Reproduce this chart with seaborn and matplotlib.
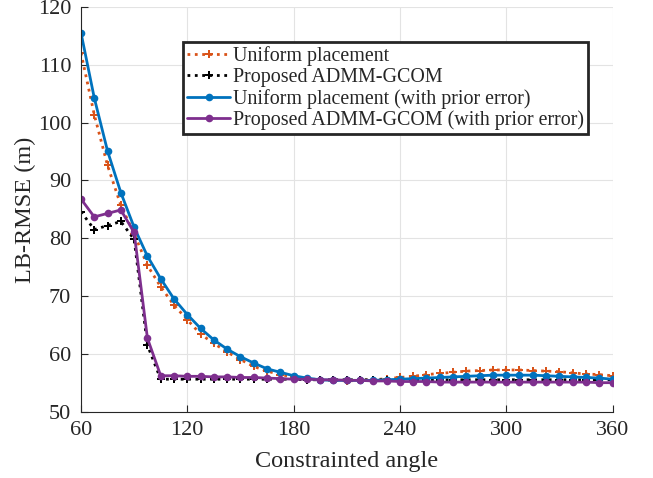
import numpy as np
import pandas as pd
import matplotlib
matplotlib.use("Agg")
import matplotlib.pyplot as plt
import seaborn as sns

# ===== DATA =====
angle = np.linspace(60, 360, 41)

uniform = [112.1, 101.4, 92.6, 85.7, 80.8, 75.3, 71.6, 68.4, 65.9, 63.4,
           61.8, 60.3, 59.0, 57.8, 57.0, 56.4, 56.0, 55.7, 55.5, 55.4,
           55.3, 55.4, 55.5, 55.7, 55.9, 56.1, 56.4, 56.6, 56.8, 57.0,
           57.1, 57.2, 57.2, 57.2, 57.1, 57.0, 56.9, 56.7, 56.5, 56.4, 56.2]
proposed = [84.6, 81.5, 82.2, 82.9, 79.8, 61.5, 55.6, 55.6, 55.6, 55.6,
            55.6, 55.6, 55.6, 55.6, 55.6, 55.6, 55.6, 55.5, 55.5, 55.5,
            55.5, 55.5, 55.5, 55.5, 55.5, 55.5, 55.5, 55.5, 55.5, 55.5,
            55.5, 55.5, 55.5, 55.5, 55.5, 55.5, 55.5, 55.5, 55.5, 55.5, 55.5]
uniform_err = [115.6, 104.3, 95.1, 87.9, 81.9, 76.9, 73.0, 69.5, 66.8, 64.4,
               62.4, 60.8, 59.5, 58.4, 57.4, 56.8, 56.2, 55.8, 55.5, 55.4,
               55.4, 55.4, 55.4, 55.5, 55.6, 55.7, 55.8, 55.9, 56.0, 56.1,
               56.2, 56.3, 56.3, 56.3, 56.3, 56.2, 56.1, 56.0, 55.9, 55.8, 55.6]
proposed_err = [86.8, 83.7, 84.3, 84.9, 81.0, 62.7, 56.2, 56.2, 56.1, 56.1,
                56.0, 56.0, 55.9, 55.9, 55.8, 55.7, 55.6, 55.6, 55.5, 55.5,
                55.4, 55.4, 55.3, 55.3, 55.2, 55.2, 55.2, 55.1, 55.1, 55.1,
                55.1, 55.1, 55.1, 55.1, 55.1, 55.1, 55.1, 55.1, 55.1, 55.0, 55.0]

labels = ['Uniform placement', 'Proposed ADMM-GCOM',
          'Uniform placement (with prior error)',
          'Proposed ADMM-GCOM (with prior error)']
series = [uniform, proposed, uniform_err, proposed_err]
colors = ['#D95319', '#000000', '#0072BD', '#7E2F8E']
styles = [':', ':', '-', '-']
markers = ['P', 'P', 'o', 'o']

df = pd.concat([pd.DataFrame({'angle': angle, 'rmse': s, 'method': l})
                for s, l in zip(series, labels)], ignore_index=True)

# ===== PLOT =====
sns.set_style('whitegrid')
plt.rcParams['font.family'] = ['Liberation Serif', 'DejaVu Serif']

fig = plt.figure(figsize=(6.53, 4.78), dpi=100)
ax = fig.add_axes([0.124, 0.139, 0.814, 0.846])

for l, c, ls, m in zip(labels, colors, styles, markers):
    sns.lineplot(data=df[df['method'] == l], x='angle', y='rmse', ax=ax,
                 color=c, linestyle=ls, linewidth=2, marker=m,
                 markersize=5.5, markeredgewidth=0, label=l)

ax.set_xlim(60, 360)
ax.set_ylim(50, 120)
ax.set_xticks(range(60, 361, 60))
ax.set_yticks(range(50, 121, 10))
ax.set_xlabel('Constrainted angle', fontsize=17.5, color='#262626', labelpad=8)
ax.set_ylabel('LB-RMSE (m)', fontsize=17.5, color='#262626', labelpad=1)
ax.tick_params(axis='both', direction='in', length=5, width=0.8, labelsize=16,
               colors='#262626', pad=7, left=True, bottom=True)
ax.grid(True, color='#e3e3e3', linewidth=0.8)
for side in ['top', 'right']:
    ax.spines[side].set_visible(False)
for side in ['left', 'bottom']:
    ax.spines[side].set_color('#262626')
    ax.spines[side].set_linewidth(0.8)

leg = ax.legend(loc='upper left', bbox_to_anchor=(0.192, 0.914), fontsize=14.4,
                frameon=True, fancybox=False, handlelength=2.15,
                handletextpad=0.15, borderpad=0.2, labelspacing=0.1,
                borderaxespad=0)
leg.get_frame().set_edgecolor('#262626')
leg.get_frame().set_linewidth(2)
leg.get_frame().set_alpha(1)

plt.savefig('out.png', dpi=100)
